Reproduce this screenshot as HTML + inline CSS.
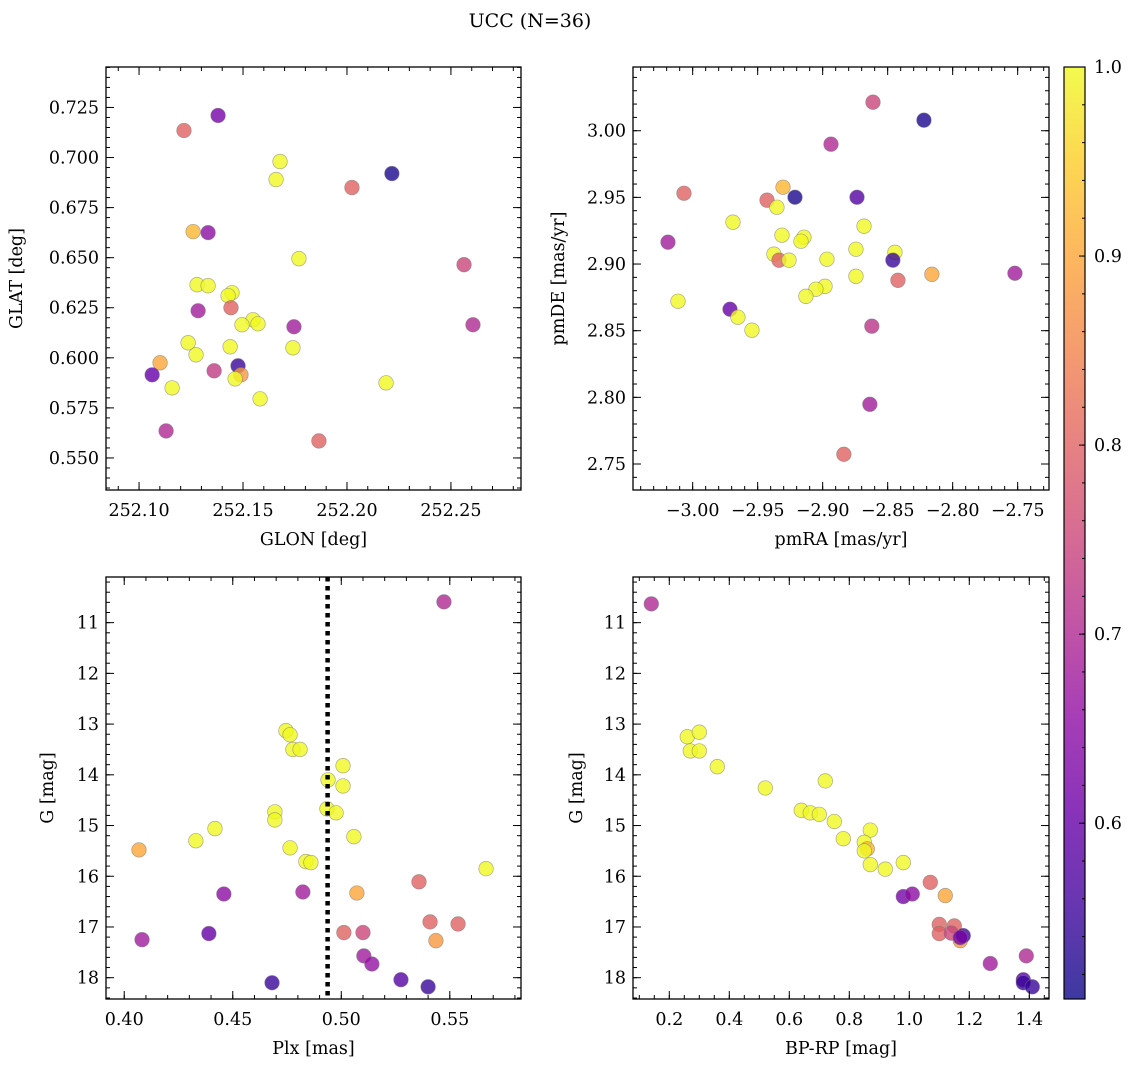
<!DOCTYPE html>
<html><head><meta charset="utf-8"><style>
html,body{margin:0;padding:0;background:#fff;}
svg{display:block;font-family:"DejaVu Serif","Liberation Serif",serif;}
</style></head><body>
<svg id="fig" width="1136" height="1067" viewBox="0 0 1136 1067" xmlns="http://www.w3.org/2000/svg">
<text x="530" y="27" font-size="19" text-anchor="middle">UCC (N=36)</text>
</svg>
<script>
// ---- Panel 1: GLON vs GLAT
const p1x=[252.1216,252.1380,252.2216,252.1678,252.1659,252.2024,252.1260,252.1332,252.1769,252.2563,252.1279,252.1332,252.1447,252.1428,252.1442,252.1284,252.1548,252.1495,252.1572,252.1745,252.2606,252.1236,252.1438,252.1740,252.1274,252.1101,252.1476,252.1063,252.1361,252.1490,252.1462,252.1159,252.2188,252.1582,252.1130,252.1865];
const p1y=[0.7135,0.7210,0.6920,0.6980,0.6890,0.6850,0.6630,0.6625,0.6495,0.6465,0.6365,0.6360,0.6325,0.6310,0.6250,0.6235,0.6190,0.6165,0.6170,0.6155,0.6165,0.6075,0.6055,0.6050,0.6015,0.5975,0.5960,0.5915,0.5935,0.5915,0.5895,0.5850,0.5875,0.5795,0.5635,0.5585];
const p1c=[0.80,0.62,0.52,1,1,0.80,0.92,0.65,1,0.75,1,1,1,1,0.80,0.68,1,1,1,0.68,0.70,1,1,1,1,0.90,0.55,0.60,0.73,0.88,1,1,1,1,0.70,0.80];
// ---- Panel 2: pmRA vs pmDE
const p2x=[-2.8613,-2.8221,-2.8936,-2.9305,-3.0067,-2.9428,-2.9213,-2.8736,-2.9352,-2.9690,-2.8682,-2.9313,-2.9144,-2.9167,-3.0190,-2.8744,-2.9375,-2.8444,-2.9336,-2.9259,-2.8967,-2.8460,-2.8160,-2.7521,-2.8744,-2.8421,-2.8982,-2.9052,-2.9129,-3.0113,-2.9713,-2.9652,-2.9544,-2.8622,-2.8637,-2.8837];
const p2y=[3.0214,3.0079,2.9899,2.9576,2.9531,2.9479,2.9501,2.9501,2.9426,2.9314,2.9284,2.9216,2.9201,2.9171,2.9164,2.9111,2.9074,2.9088,2.9029,2.9029,2.9036,2.9029,2.8923,2.8931,2.8908,2.8878,2.8833,2.8811,2.8758,2.8721,2.8661,2.8601,2.8504,2.8534,2.7948,2.7573];
const p2c=[0.75,0.52,0.70,0.92,0.80,0.80,0.52,0.58,1,1,1,1,1,1,0.68,1,1,1,0.80,1,1,0.55,0.90,0.68,1,0.80,1,1,1,1,0.60,1,1,0.72,0.68,0.80];
// ---- Panel 3: Plx vs G
const p3x=[0.5473,0.4745,0.4764,0.4777,0.4810,0.5008,0.4939,0.5008,0.4934,0.4976,0.4694,0.4694,0.4418,0.4330,0.4068,0.4764,0.5058,0.4837,0.4860,0.5667,0.5358,0.5072,0.4459,0.4823,0.5409,0.5538,0.5012,0.5100,0.5436,0.4390,0.4082,0.5104,0.5141,0.5275,0.4681,0.5400];
const p3y=[10.59,13.13,13.21,13.50,13.50,13.82,14.10,14.22,14.67,14.75,14.73,14.89,15.06,15.30,15.48,15.44,15.22,15.71,15.73,15.85,16.11,16.33,16.35,16.31,16.90,16.94,17.11,17.11,17.27,17.13,17.25,17.57,17.73,18.04,18.10,18.18];
const p3c=[0.70,1,1,1,1,1,1,1,1,1,1,1,1,1,0.90,1,1,1,1,1,0.80,0.90,0.65,0.68,0.80,0.80,0.80,0.75,0.88,0.60,0.68,0.68,0.66,0.58,0.55,0.55];
const plxMean=[0.4937];
// ---- Panel 4: BP-RP vs G
const p4x=[0.26,0.30,0.27,0.30,0.36,0.72,0.52,0.64,0.67,0.70,0.75,0.87,0.78,0.85,0.86,0.85,0.87,0.92,0.98,0.14,1.07,1.12,0.98,1.01,1.10,1.15,1.10,1.14,1.17,1.18,1.17,1.27,1.39,1.38,1.38,1.41];
const p4y=[13.25,13.16,13.53,13.53,13.84,14.12,14.26,14.70,14.75,14.78,14.92,15.09,15.26,15.33,15.46,15.50,15.77,15.86,15.73,10.63,16.12,16.38,16.40,16.35,16.95,16.98,17.13,17.12,17.27,17.17,17.21,17.72,17.57,18.04,18.10,18.18];
const p4c=[1,1,1,1,1,1,1,1,1,1,1,1,1,1,0.92,1,1,1,1,0.70,0.80,0.90,0.62,0.65,0.80,0.80,0.80,0.75,0.88,0.56,0.62,0.68,0.70,0.58,0.55,0.55];
// ---- Colorbar
const cbTicks=[0.6,0.7,0.8,0.9,1.0];
const cbRange=[0.507,1.0];

const NS="http://www.w3.org/2000/svg";
const svg=document.getElementById('fig');
function mk(tag,attrs,parent){const e=document.createElementNS(NS,tag);for(const k in attrs)e.setAttribute(k,attrs[k]);(parent||svg).appendChild(e);return e;}
const PL=[[0,[13,8,135]],[0.1,[65,4,157]],[0.2,[106,0,168]],[0.3,[143,13,164]],[0.4,[177,42,144]],[0.5,[204,71,120]],[0.6,[225,100,98]],[0.7,[242,132,75]],[0.8,[252,166,54]],[0.9,[252,206,37]],[1.0,[240,249,33]]];
function plasma(t){t=Math.max(0,Math.min(1,t));for(let i=1;i<PL.length;i++){if(t<=PL[i][0]){const a=PL[i-1],b=PL[i],f=(t-a[0])/(b[0]-a[0]);const c=a[1].map((v,j)=>Math.round(v+(b[1][j]-v)*f));return `rgb(${c[0]},${c[1]},${c[2]})`;}}return 'rgb(240,249,33)';}
function cmap(v){return plasma((v-cbRange[0])/(cbRange[1]-cbRange[0]));}
function fmt(v,d){const s=Math.abs(v).toFixed(d);return (v<-1e-9?'\u2212':'')+s;}

function panel(o){
  const g=mk('g',{});
  
  
  const X=v=>o.x0+(v-o.xd[0])/(o.xd[1]-o.xd[0])*(o.x1-o.x0);
  const Y=o.yinv? v=>o.y0+(v-o.yd[0])/(o.yd[1]-o.yd[0])*(o.y1-o.y0) : v=>o.y1-(v-o.yd[0])/(o.yd[1]-o.yd[0])*(o.y1-o.y0);
  const pg=mk('g',{},g);
  for(let i=0;i<o.xs.length;i++){
    const c=mk('circle',{cx:X(o.xs[i]).toFixed(2),cy:Y(o.ys[i]).toFixed(2),r:7.3,fill:cmap(o.cs[i]),'fill-opacity':0.8,stroke:'#777','stroke-opacity':0.6,'stroke-width':0.7},pg);
    
    
  }
  if(o.vline!==undefined){
    const l=mk('line',{x1:X(o.vline),x2:X(o.vline),y1:o.y0,y2:o.y1,stroke:'#000','stroke-width':4.5,'stroke-dasharray':'4.5 4.5'},g);
    
    
  }
  const tg=mk('g',{stroke:'#000','stroke-width':1},g);
  function ticksOf(d,step){const a=[];const lo=Math.min(d[0],d[1]),hi=Math.max(d[0],d[1]);for(let k=Math.ceil(lo/step-1e-6);k*step<=hi+1e-9;k++)a.push(+(k*step).toFixed(6));return a;}
  ticksOf(o.xd,o.xminor).forEach(v=>{const x=X(v);mk('line',{x1:x,x2:x,y1:o.y1,y2:o.y1-4},tg);mk('line',{x1:x,x2:x,y1:o.y0,y2:o.y0+4},tg);});
  ticksOf(o.yd,o.yminor).forEach(v=>{const y=Y(v);mk('line',{x1:o.x0,x2:o.x0+4,y1:y,y2:y},tg);mk('line',{x1:o.x1,x2:o.x1-4,y1:y,y2:y},tg);});
  ticksOf(o.xd,o.xmajor).forEach(v=>{const x=X(v);mk('line',{x1:x,x2:x,y1:o.y1,y2:o.y1-8},tg);mk('line',{x1:x,x2:x,y1:o.y0,y2:o.y0+8},tg);
    const t=mk('text',{x:x,y:o.y1+26,'font-size':17.5,'text-anchor':'middle'},g);t.textContent=fmt(v,o.xdec);
    });
  ticksOf(o.yd,o.ymajor).forEach(v=>{const y=Y(v);mk('line',{x1:o.x0,x2:o.x0+8,y1:y,y2:y},tg);mk('line',{x1:o.x1,x2:o.x1-8,y1:y,y2:y},tg);
    const t=mk('text',{x:o.x0-7,y:y+6,'font-size':17.5,'text-anchor':'end'},g);t.textContent=fmt(v,o.ydec);
    });
  const fr=mk('rect',{x:o.x0,y:o.y0,width:o.x1-o.x0,height:o.y1-o.y0,fill:'none',stroke:'#000','stroke-width':1.3},g);
  
  const xl=mk('text',{x:(o.x0+o.x1)/2,y:o.y1+55,'font-size':17.5,'text-anchor':'middle'},g);xl.textContent=o.xlabel;
  
  const cy=(o.y0+o.y1)/2;
  const yl=mk('text',{x:o.ylx,y:cy,'font-size':17.5,'text-anchor':'middle',transform:`rotate(-90 ${o.ylx} ${cy})`},g);yl.textContent=o.ylabel;
  
}

panel({name:'glon-glat-panel',x0:106,x1:521,y0:67,y1:490,xd:[252.0841,252.2837],yd:[0.5340,0.7452],xs:p1x,ys:p1y,cs:p1c,xmajor:0.05,xminor:0.01,ymajor:0.025,yminor:0.005,xdec:2,ydec:3,xlabel:'GLON [deg]',ylabel:'GLAT [deg]',ylx:22});
panel({name:'pm-panel',x0:633,x1:1049,y0:67,y1:490,xd:[-3.0459,-2.7259],yd:[2.7305,3.0478],xs:p2x,ys:p2y,cs:p2c,xmajor:0.05,xminor:0.01,ymajor:0.05,yminor:0.01,xdec:2,ydec:2,xlabel:'pmRA [mas/yr]',ylabel:'pmDE [mas/yr]',ylx:564});
panel({name:'plx-g-panel',x0:106,x1:521,y0:577,y1:999,xd:[0.3916,0.5828],yd:[10.10,18.42],yinv:true,xs:p3x,ys:p3y,cs:p3c,vline:plxMean[0],xmajor:0.05,xminor:0.01,ymajor:1,yminor:0.2,xdec:2,ydec:0,xlabel:'Plx [mas]',ylabel:'G [mag]',ylx:53});
panel({name:'cmd-panel',x0:633,x1:1049,y0:577,y1:999,xd:[0.079,1.4657],yd:[10.10,18.42],yinv:true,xs:p4x,ys:p4y,cs:p4c,xmajor:0.2,xminor:0.05,ymajor:1,yminor:0.2,xdec:1,ydec:0,xlabel:'BP-RP [mag]',ylabel:'G [mag]',ylx:582});

(function(){
  const x0=1064,x1=1085,y0=67,y1=999;
  const defs=mk('defs',{});
  const lg=mk('linearGradient',{id:'cbg',x1:0,y1:1,x2:0,y2:0},defs);
  for(let i=0;i<=20;i++){const t=i/20;mk('stop',{offset:t,'stop-color':plasma(t)},lg);}
  const r=mk('rect',{x:x0,y:y0,width:x1-x0,height:y1-y0,fill:'url(#cbg)','fill-opacity':0.8,stroke:'#000','stroke-width':1.2});
  
  const CY=v=>y1-(v-cbRange[0])/(cbRange[1]-cbRange[0])*(y1-y0);
  for(let k=26;k<=50;k++){const v=k*0.02;if(v<cbRange[0]||v>cbRange[1]+1e-9)continue;const y=CY(v);mk('line',{x1:x1,x2:x1-3,y1:y,y2:y,stroke:'#000','stroke-width':1});}
  cbTicks.forEach(v=>{const y=CY(v);mk('line',{x1:x1,x2:x1-6,y1:y,y2:y,stroke:'#000','stroke-width':1});
    const t=mk('text',{x:1094,y:y+6,'font-size':17.5},svg);t.textContent=v.toFixed(1);
    });
})();
</script>
</body></html>
